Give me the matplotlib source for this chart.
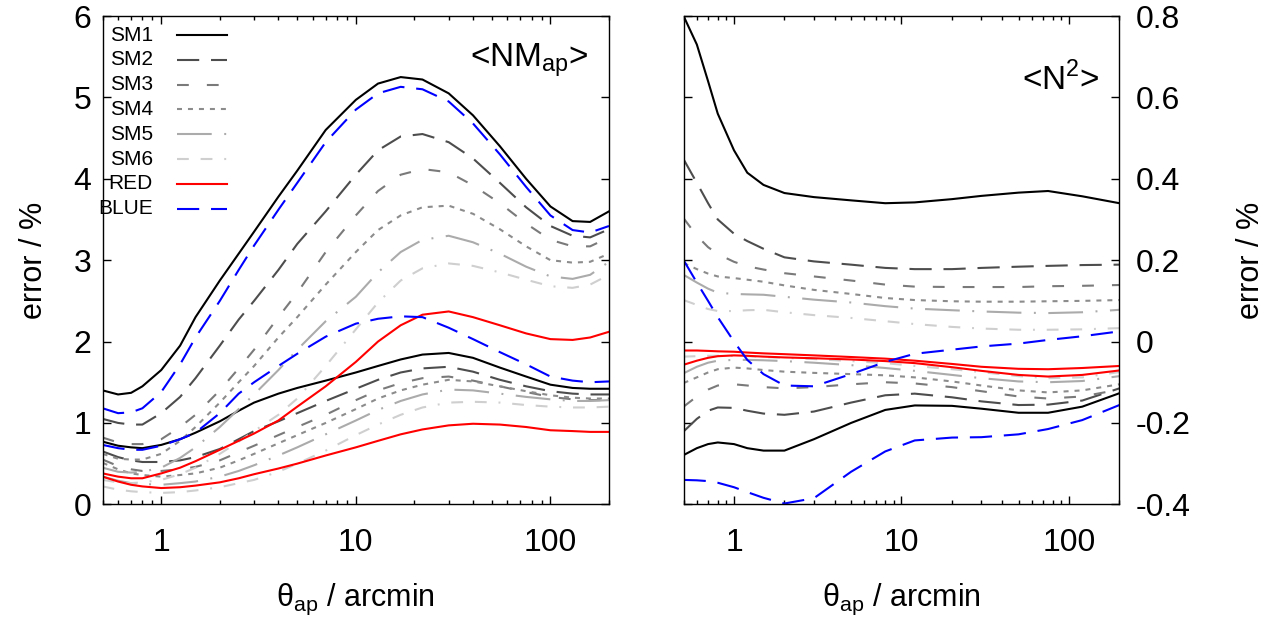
import matplotlib
matplotlib.use('Agg')
import matplotlib.pyplot as plt
from matplotlib.ticker import LogLocator, NullFormatter

plt.rcParams['font.family'] = ['Liberation Sans', 'DejaVu Sans']
plt.rcParams['mathtext.fontset'] = 'custom'
plt.rcParams['mathtext.rm'] = 'Liberation Sans'
plt.rcParams['axes.unicode_minus'] = False
plt.rcParams['lines.scale_dashes'] = False

# ---- data: left panel <NM_ap>, error in %
theta_nmap = [0.5, 0.6, 0.7, 0.8, 1, 1.25, 1.5, 2, 2.5, 3, 4, 5, 7, 10, 13, 17, 22,
              30, 40, 55, 75, 100, 130, 160, 200]

nmap_sm1_hi = [1.40, 1.35, 1.37, 1.45, 1.65, 1.95, 2.3, 2.75, 3.08, 3.35, 3.78, 4.1, 4.6, 4.97, 5.17,
               5.25, 5.22, 5.05, 4.78, 4.4, 4.0, 3.66, 3.48, 3.47, 3.6]
nmap_sm1_lo = [0.77, 0.72, 0.7, 0.69, 0.73, 0.8, 0.88, 1.02, 1.15, 1.25, 1.36, 1.43, 1.52, 1.62, 1.7,
               1.78, 1.84, 1.86, 1.8, 1.68, 1.57, 1.47, 1.43, 1.42, 1.42]
nmap_sm2_hi = [1.05, 1.0, 0.98, 0.98, 1.12, 1.32, 1.55, 1.95, 2.27, 2.5, 2.88, 3.2, 3.6, 4.05, 4.35,
               4.52, 4.55, 4.45, 4.25, 3.95, 3.65, 3.42, 3.3, 3.28, 3.38]
nmap_sm2_lo = [0.65, 0.58, 0.54, 0.52, 0.52, 0.54, 0.58, 0.68, 0.8, 0.9, 1.02, 1.12, 1.27, 1.42, 1.53,
               1.62, 1.67, 1.69, 1.63, 1.53, 1.45, 1.39, 1.36, 1.35, 1.35]
nmap_sm3_hi = [0.82, 0.76, 0.74, 0.74, 0.8, 0.95, 1.1, 1.4, 1.67, 1.9, 2.3, 2.6, 3.1, 3.55, 3.85,
               4.05, 4.12, 4.08, 3.92, 3.7, 3.45, 3.25, 3.17, 3.17, 3.28]
nmap_sm3_lo = [0.55, 0.47, 0.43, 0.41, 0.41, 0.43, 0.46, 0.54, 0.64, 0.72, 0.85, 0.95, 1.1, 1.28, 1.4,
               1.49, 1.55, 1.57, 1.52, 1.45, 1.38, 1.32, 1.29, 1.28, 1.28]
nmap_sm4_hi = [0.62, 0.56, 0.55, 0.55, 0.62, 0.78, 0.95, 1.25, 1.5, 1.7, 2.05, 2.3, 2.7, 3.1, 3.37,
               3.55, 3.65, 3.67, 3.57, 3.38, 3.17, 3.0, 2.97, 2.98, 3.08]
nmap_sm4_lo = [0.51, 0.43, 0.38, 0.36, 0.34, 0.36, 0.38, 0.45, 0.54, 0.62, 0.75, 0.85, 1.0, 1.17, 1.3,
               1.4, 1.47, 1.53, 1.51, 1.45, 1.39, 1.34, 1.31, 1.3, 1.3]
nmap_sm5_hi = [0.45, 0.4, 0.39, 0.4, 0.45, 0.57, 0.7, 0.95, 1.17, 1.35, 1.65, 1.9, 2.25, 2.55, 2.85,
               3.1, 3.25, 3.3, 3.22, 3.08, 2.92, 2.8, 2.77, 2.82, 2.98]
nmap_sm5_lo = [0.34, 0.29, 0.26, 0.25, 0.24, 0.26, 0.28, 0.34, 0.41, 0.48, 0.6, 0.7, 0.86, 1.03, 1.16,
               1.27, 1.35, 1.41, 1.4, 1.36, 1.32, 1.29, 1.27, 1.27, 1.28]
nmap_sm6_hi = [0.3, 0.27, 0.26, 0.27, 0.3, 0.37, 0.45, 0.62, 0.77, 0.9, 1.1, 1.3, 1.7, 2.15, 2.48,
               2.75, 2.9, 2.96, 2.93, 2.85, 2.76, 2.68, 2.66, 2.7, 2.82]
nmap_sm6_lo = [0.22, 0.18, 0.16, 0.15, 0.14, 0.15, 0.17, 0.21, 0.26, 0.3, 0.4, 0.5, 0.66, 0.85, 0.98,
               1.1, 1.19, 1.25, 1.26, 1.25, 1.22, 1.2, 1.19, 1.19, 1.2]
nmap_red_hi = [0.38, 0.34, 0.32, 0.32, 0.38, 0.45, 0.53, 0.67, 0.78, 0.87, 1.03, 1.2, 1.45, 1.75, 2.0,
               2.2, 2.33, 2.37, 2.3, 2.2, 2.1, 2.03, 2.02, 2.05, 2.12]
nmap_red_lo = [0.34, 0.28, 0.24, 0.22, 0.2, 0.21, 0.23, 0.27, 0.32, 0.37, 0.44, 0.5, 0.6, 0.7, 0.78,
               0.86, 0.92, 0.97, 0.99, 0.98, 0.95, 0.91, 0.9, 0.89, 0.89]
nmap_blue_hi = [1.18, 1.12, 1.13, 1.18, 1.38, 1.72, 2.05, 2.5, 2.88, 3.18, 3.62, 3.95, 4.45, 4.85, 5.05,
                5.13, 5.1, 4.95, 4.68, 4.3, 3.9, 3.55, 3.37, 3.34, 3.42]
nmap_blue_lo = [0.73, 0.69, 0.67, 0.67, 0.72, 0.8, 0.88, 1.12, 1.36, 1.5, 1.7, 1.85, 2.06, 2.22, 2.28,
                2.31, 2.3, 2.17, 2.03, 1.87, 1.72, 1.57, 1.52, 1.5, 1.51]

# ---- data: right panel <N^2>, error in %
theta_n2 = [0.5, 0.6, 0.7, 0.8, 1, 1.2, 1.5, 2, 3, 5, 8, 12, 20, 30, 50, 75, 120, 200]

n2_sm1_hi = [0.80, 0.73, 0.64, 0.56, 0.47, 0.415, 0.385, 0.365, 0.355, 0.347, 0.34, 0.342, 0.35, 0.358, 0.366, 0.37, 0.357, 0.34]
n2_sm1_lo = [-0.279, -0.262, -0.252, -0.248, -0.252, -0.262, -0.268, -0.268, -0.24, -0.2, -0.168, -0.157, -0.158, -0.165, -0.175, -0.175, -0.16, -0.127]
n2_sm2_hi = [0.448, 0.39, 0.34, 0.3, 0.265, 0.247, 0.228, 0.207, 0.197, 0.189, 0.181, 0.178, 0.178, 0.181, 0.184, 0.186, 0.188, 0.189]
n2_sm2_lo = [-0.221, -0.19, -0.17, -0.162, -0.163, -0.17, -0.177, -0.18, -0.172, -0.15, -0.132, -0.128, -0.137, -0.147, -0.156, -0.155, -0.145, -0.115]
n2_sm3_hi = [0.303, 0.26, 0.232, 0.215, 0.196, 0.185, 0.177, 0.168, 0.16, 0.15, 0.14, 0.135, 0.134, 0.134, 0.134, 0.136, 0.137, 0.139]
n2_sm3_lo = [-0.16, -0.135, -0.118, -0.108, -0.105, -0.108, -0.112, -0.115, -0.112, -0.105, -0.1, -0.103, -0.112, -0.122, -0.135, -0.14, -0.135, -0.118]
n2_sm4_hi = [0.193, 0.178, 0.167, 0.16, 0.156, 0.152, 0.147, 0.138, 0.127, 0.117, 0.107, 0.102, 0.099, 0.098, 0.098, 0.099, 0.1, 0.102]
n2_sm4_lo = [-0.102, -0.088, -0.076, -0.068, -0.064, -0.066, -0.07, -0.074, -0.077, -0.08, -0.083, -0.088, -0.098, -0.108, -0.12, -0.125, -0.12, -0.105]
n2_sm5_hi = [0.164, 0.145, 0.13, 0.12, 0.117, 0.116, 0.115, 0.11, 0.103, 0.096, 0.087, 0.081, 0.077, 0.074, 0.071, 0.07, 0.072, 0.078]
n2_sm5_lo = [-0.078, -0.062, -0.052, -0.047, -0.045, -0.045, -0.046, -0.048, -0.052, -0.058, -0.065, -0.072, -0.082, -0.09, -0.098, -0.1, -0.097, -0.085]
n2_sm6_hi = [0.102, 0.09, 0.08, 0.075, 0.075, 0.077, 0.078, 0.072, 0.065, 0.058, 0.05, 0.043, 0.036, 0.032, 0.029, 0.029, 0.03, 0.033]
n2_sm6_lo = [-0.037, -0.036, -0.035, -0.035, -0.035, -0.036, -0.038, -0.04, -0.043, -0.048, -0.053, -0.06, -0.068, -0.075, -0.085, -0.09, -0.088, -0.075]
n2_red_hi = [-0.022, -0.022, -0.023, -0.024, -0.025, -0.027, -0.029, -0.031, -0.034, -0.038, -0.042, -0.047, -0.055, -0.062, -0.067, -0.068, -0.065, -0.06]
n2_red_lo = [-0.057, -0.047, -0.04, -0.036, -0.034, -0.035, -0.037, -0.039, -0.041, -0.044, -0.048, -0.053, -0.063, -0.072, -0.082, -0.086, -0.082, -0.071]
n2_blue_hi = [0.2, 0.145, 0.1, 0.06, 0.0, -0.045, -0.08, -0.108, -0.11, -0.08, -0.05, -0.03, -0.02, -0.012, -0.005, 0.004, 0.013, 0.025]
n2_blue_lo = [-0.34, -0.341, -0.343, -0.347, -0.358, -0.37, -0.384, -0.398, -0.385, -0.32, -0.27, -0.243, -0.236, -0.235, -0.228, -0.215, -0.193, -0.156]

models = ['SM1', 'SM2', 'SM3', 'SM4', 'SM5', 'SM6', 'RED', 'BLUE']
nmap = {
    'SM1': (nmap_sm1_hi, nmap_sm1_lo), 'SM2': (nmap_sm2_hi, nmap_sm2_lo),
    'SM3': (nmap_sm3_hi, nmap_sm3_lo), 'SM4': (nmap_sm4_hi, nmap_sm4_lo),
    'SM5': (nmap_sm5_hi, nmap_sm5_lo), 'SM6': (nmap_sm6_hi, nmap_sm6_lo),
    'RED': (nmap_red_hi, nmap_red_lo), 'BLUE': (nmap_blue_hi, nmap_blue_lo),
}
n2 = {
    'SM1': (n2_sm1_hi, n2_sm1_lo), 'SM2': (n2_sm2_hi, n2_sm2_lo),
    'SM3': (n2_sm3_hi, n2_sm3_lo), 'SM4': (n2_sm4_hi, n2_sm4_lo),
    'SM5': (n2_sm5_hi, n2_sm5_lo), 'SM6': (n2_sm6_hi, n2_sm6_lo),
    'RED': (n2_red_hi, n2_red_lo), 'BLUE': (n2_blue_hi, n2_blue_lo),
}

# gnuplot-like line styles (dashes in points)
styles = {
    'SM1': dict(color='black', dashes=[]),
    'SM2': dict(color='#4d4d4d', dashes=[16, 8.5]),
    'SM3': dict(color='#7a7a7a', dashes=[8.5, 13]),
    'SM4': dict(color='#8c8c8c', dashes=[3.6, 4.3]),
    'SM5': dict(color='#ababab', dashes=[25, 9, 1.4, 9]),
    'SM6': dict(color='#cfcfcf', dashes=[8.5, 8.5, 8.5, 8.5, 1.4, 8.5]),
    'RED': dict(color='#ff0000', dashes=[]),
    'BLUE': dict(color='#0000ff', dashes=[16, 8.5]),
}
LW = 1.5

fig = plt.figure(figsize=(12.77, 6.24), dpi=100)
ax1 = fig.add_axes([0.0804, 0.1918, 0.3965, 0.7825])
ax2 = fig.add_axes([0.5353, 0.1918, 0.3413, 0.7825])

for m in models:
    st = styles[m]
    for ys in nmap[m]:
        l, = ax1.plot(theta_nmap, ys, color=st['color'], lw=LW)
        if st['dashes']:
            l.set_dashes(st['dashes'])
    for ys in n2[m]:
        l, = ax2.plot(theta_n2, ys, color=st['color'], lw=LW)
        if st['dashes']:
            l.set_dashes(st['dashes'])

for ax in (ax1, ax2):
    ax.set_xscale('log')
    ax.set_xlim(0.5, 200)
    ax.set_xticks([1, 10, 100])
    ax.set_xticklabels(['1', '10', '100'])
    ax.xaxis.set_minor_locator(LogLocator(base=10, subs=range(2, 10), numticks=20))
    ax.xaxis.set_minor_formatter(NullFormatter())
    ax.tick_params(which='both', direction='in', top=True, bottom=True,
                   left=True, right=True, labelsize=23, width=1)
    ax.tick_params(which='major', length=6)
    ax.tick_params(which='minor', length=3)
    ax.tick_params(axis='x', pad=17)
    ax.set_xlabel('θ$_{\\rm ap}$ / arcmin', fontsize=22, labelpad=17)
    for s in ax.spines.values():
        s.set_linewidth(1.0)

ax1.set_ylim(0, 6)
ax1.set_yticks([0, 1, 2, 3, 4, 5, 6])
ax1.tick_params(axis='y', pad=8)
ax1.set_ylabel('error / %', fontsize=22, labelpad=18)
ax1.text(0.96, 0.91, '<NM$_{\\rm ap}$>', transform=ax1.transAxes,
         ha='right', va='center', fontsize=24)

n2_ticks = [-0.4, -0.2, 0, 0.2, 0.4, 0.6, 0.8]
ax2.set_ylim(-0.4, 0.8)
ax2.set_yticks(n2_ticks)
ax2.set_yticklabels(['-0.4', '-0.2', '0', '0.2', '0.4', '0.6', '0.8'])
ax2.tick_params(axis='y', labelleft=False, labelright=True, pad=12)
ax2.yaxis.set_label_position('right')
ax2.set_ylabel('error / %', fontsize=22, labelpad=32)
ax2.text(0.955, 0.87, '<N$^2$>', transform=ax2.transAxes,
         ha='right', va='center', fontsize=24)

# gnuplot-style key: right-aligned label, sample line to its right
for i, m in enumerate(models):
    y = 0.961 - i * 0.0508
    st = styles[m]
    ax1.text(0.099, y, m, transform=ax1.transAxes, ha='right', va='center',
             fontsize=15, clip_on=False)
    l, = ax1.plot([0.147, 0.246], [y, y], transform=ax1.transAxes,
                  color=st['color'], lw=LW)
    if st['dashes']:
        l.set_dashes(st['dashes'])

fig.savefig('out.png', dpi=100)
